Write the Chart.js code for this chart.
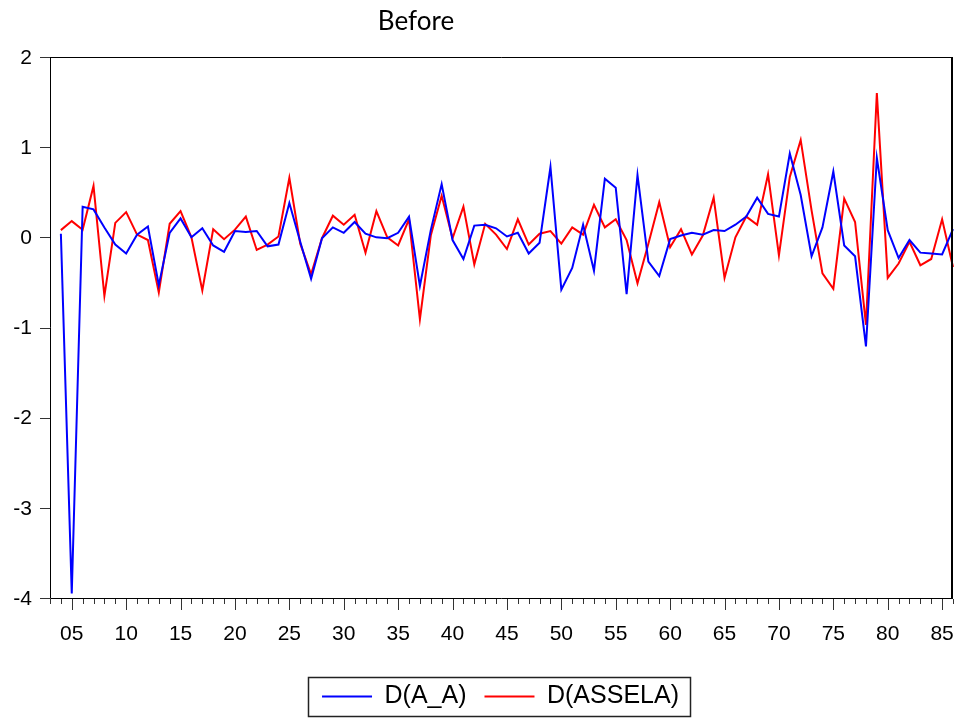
<!DOCTYPE html>
<html>
<head>
<meta charset="utf-8">
<script src="https://cdn.jsdelivr.net/npm/chart.js@4/dist/chart.umd.min.js"></script>
<style>
  html, body { margin: 0; padding: 0; background: #fff; }
  canvas { display: block; }
</style>
</head>
<body>
<canvas id="c" width="956" height="719"></canvas>
<script>
const chartTitle = 'Before';
const periods = ['03','04','05','06','07','08','09','10','11','12','13','14','15','16','17','18','19','20','21','22','23','24','25','26','27','28','29','30','31','32','33','34','35','36','37','38','39','40','41','42','43','44','45','46','47','48','49','50','51','52','53','54','55','56','57','58','59','60','61','62','63','64','65','66','67','68','69','70','71','72','73','74','75','76','77','78','79','80','81','82','83','84','85','86'];
const seriesNames = ['D(A_A)', 'D(ASSELA)'];
const dAA = [null,0.04,-3.95,0.34,0.31,0.11,-0.08,-0.18,0.03,0.12,-0.53,0.05,0.21,0.00,0.10,-0.09,-0.16,0.07,0.06,0.07,-0.10,-0.08,0.38,-0.05,-0.46,-0.01,0.11,0.05,0.17,0.04,0.00,-0.01,0.05,0.23,-0.54,0.08,0.59,-0.03,-0.24,0.13,0.14,0.10,0.01,0.05,-0.18,-0.06,0.78,-0.58,-0.34,0.14,-0.37,0.65,0.55,-0.63,0.69,-0.27,-0.43,-0.02,0.02,0.05,0.03,0.08,0.07,0.14,0.23,0.44,0.26,0.23,0.93,0.47,-0.21,0.11,0.73,-0.09,-0.21,-1.21,0.88,0.08,-0.23,-0.03,-0.17,-0.18,-0.19,0.09];
const dAssela = [null,0.08,0.18,0.085,0.57,-0.65,0.16,0.28,0.03,-0.03,-0.61,0.15,0.29,0.00,-0.59,0.09,-0.02,0.085,0.23,-0.14,-0.08,0.01,0.66,-0.07,-0.41,-0.01,0.24,0.14,0.25,-0.17,0.29,0.00,-0.09,0.20,-0.91,0.02,0.46,-0.01,0.34,-0.30,0.15,0.03,-0.13,0.20,-0.08,0.04,0.07,-0.07,0.11,0.03,0.36,0.11,0.20,-0.03,-0.51,-0.07,0.39,-0.11,0.09,-0.19,0.02,0.44,-0.45,0.00,0.23,0.14,0.70,-0.20,0.67,1.08,0.30,-0.40,-0.57,0.43,0.17,-0.97,1.60,-0.45,-0.29,-0.05,-0.31,-0.24,0.20,-0.33];
const yTicks = [2, 1, 0, -1, -2, -3, -4];

const AXIS_FONT = { family: 'Liberation Sans, Arial, sans-serif', size: 21 };

const decor = {
  id: 'decor',
  afterDraw(chart) {
    const ctx = chart.ctx;
    const a = chart.chartArea;
    const xs = chart.scales.x, ys = chart.scales.y;
    ctx.save();
    // frame
    ctx.strokeStyle = '#000';
    ctx.lineWidth = 1;
    ctx.beginPath();
    ctx.moveTo(a.left + 0.5, a.top + 0.5);
    ctx.lineTo(a.right, a.top + 0.5);
    ctx.moveTo(a.left + 0.5, a.top);
    ctx.lineTo(a.left + 0.5, a.bottom + 0.5);
    ctx.lineTo(a.right, a.bottom + 0.5);
    ctx.stroke();
    ctx.lineWidth = 2;
    ctx.beginPath();
    ctx.moveTo(a.right - 1, a.top);
    ctx.lineTo(a.right - 1, a.bottom + 1);
    ctx.stroke();
    // ticks
    ctx.strokeStyle = '#333';
    ctx.lineWidth = 1;
    ctx.beginPath();
    periods.forEach((p, i) => {
      const px = Math.round(xs.getPixelForValue(i)) + 0.5;
      const len = (Number(p) % 5 === 0) ? 11 : 5;
      ctx.moveTo(px, a.bottom + 1);
      ctx.lineTo(px, a.bottom + 1 + len);
    });
    yTicks.forEach(v => {
      const py = Math.round(ys.getPixelForValue(v)) + 0.5;
      ctx.moveTo(a.left - 10, py);
      ctx.lineTo(a.left, py);
    });
    ctx.stroke();
    // y tick labels
    ctx.fillStyle = '#000';
    ctx.font = AXIS_FONT.size + 'px ' + AXIS_FONT.family;
    ctx.textAlign = 'right';
    ctx.textBaseline = 'middle';
    yTicks.forEach(v => {
      ctx.fillText(String(v), a.left - 18, ys.getPixelForValue(v) + 1);
    });
    // title
    ctx.font = '26px Lato, "Open Sans", sans-serif';
    ctx.textAlign = 'center';
    ctx.textBaseline = 'alphabetic';
    ctx.fillText(chartTitle, 416, 29.5);
    // legend frame
    const lg = chart.legend;
    if (lg && lg.legendHitBoxes && lg.legendHitBoxes.length) {
      const hb = lg.legendHitBoxes;
      const l = Math.min(...hb.map(h => h.left)) - 14;
      const r = Math.max(...hb.map(h => h.left + h.width)) + 11;
      const cy = hb[0].top + hb[0].height / 2;
      ctx.strokeStyle = '#222';
      ctx.lineWidth = 1.5;
      ctx.strokeRect(Math.round(l) + 0.5, Math.round(cy - 19.5) + 0.5, Math.round(r - l), 39);
    }
    ctx.restore();
  }
};

new Chart(document.getElementById('c'), {
  type: 'line',
  data: {
    labels: periods,
    datasets: [
      { label: seriesNames[0], data: dAA, borderColor: '#0000FF', backgroundColor: '#0000FF', borderWidth: 2, pointRadius: 0, tension: 0 },
      { label: seriesNames[1], data: dAssela, borderColor: '#FF0000', backgroundColor: '#FF0000', borderWidth: 2, pointRadius: 0, tension: 0 }
    ]
  },
  options: {
    responsive: false,
    animation: false,
    layout: { padding: { left: 48, right: 3, top: 57, bottom: 0 } },
    plugins: {
      title: { display: false },
      tooltip: { enabled: false },
      legend: {
        display: true,
        position: 'bottom',
        labels: {
          usePointStyle: true,
          pointStyle: 'line',
          pointStyleWidth: 50,
          padding: 18,
          color: '#000',
          font: { family: 'Liberation Sans, Arial, sans-serif', size: 25 }
        }
      }
    },
    scales: {
      x: {
        type: 'category',
        offset: false,
        grid: { display: false, drawTicks: true, tickLength: 11 },
        border: { display: false },
        ticks: {
          autoSkip: false,
          maxRotation: 0,
          minRotation: 0,
          padding: 13,
          color: '#000',
          font: AXIS_FONT,
          callback: (v, i) => (Number(periods[i]) % 5 === 0 ? periods[i] : '')
        },
        afterFit: (s) => { s.height = 68; s.paddingLeft = 0; s.paddingRight = 0; }
      },
      y: {
        min: -4,
        max: 2,
        grid: { display: false, drawTicks: true, tickLength: 10 },
        border: { display: false },
        ticks: { display: false, stepSize: 1 },
        afterFit: (s) => { s.width = 2; s.paddingTop = 0; s.paddingBottom = 0; }
      }
    }
  },
  plugins: [decor]
});
</script>
</body>
</html>
